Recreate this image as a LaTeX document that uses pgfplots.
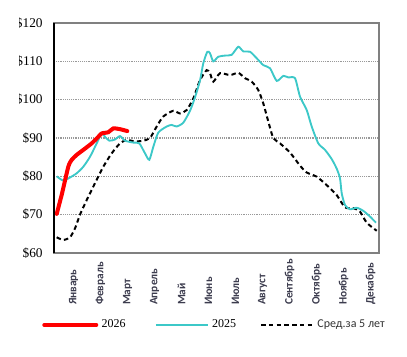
\documentclass[border=0pt]{standalone}
\usepackage{fontspec}
\setmainfont{Liberation Serif}
\newfontfamily\calib{Carlito}
\usepackage{pgfplots}
\pgfplotsset{compat=1.18}
\definecolor{cy}{RGB}{60,200,200}
\definecolor{lab}{RGB}{60,60,78}
\begin{document}
\begin{tikzpicture}
\begin{axis}[
 name=ax,
 scale only axis, width=243.75pt, height=172.5pt,
 xmin=0, xmax=325, ymin=60, ymax=120,
 axis line style={draw=gray, line width=1.3pt},
 ytick={60,70,...,120},
 yticklabels={\$60,\$70,\$80,\$90,\$100,\$110,\$120},
 yticklabel style={font=\fontsize{10}{12}\selectfont, xshift=-5pt},
 ymajorgrids, grid style={densely dotted, gray!80, line width=0.8pt},
 major tick length=0pt,
 xtick={19.5,46.5,73.5,100.5,127.5,154.5,181.5,208.5,235.5,262.5,289.5,316.5},
 xticklabels={Январь,Февраль,Март,Апрель,Май,Июнь,Июль,Август,Сентябрь,Октябрь,Ноябрь,Декабрь},
 xticklabel style={font=\calib\fontsize{8.5}{10}\selectfont\bfseries, color=lab, rotate=90, anchor=east, text width=36pt, align=left, inner sep=2.8pt},
 legend columns=3, reverse legend,
 legend style={at={(-0.0369,-0.313)}, anchor=west, draw=none, fill=none, inner sep=0pt,
   font=\fontsize{9}{11}\selectfont, nodes={inner sep=0pt},
   /tikz/column 1/.style={column sep=2.5pt},
   /tikz/column 2/.style={column sep=22pt},
   /tikz/column 3/.style={column sep=2.5pt},
   /tikz/column 4/.style={column sep=18pt},
   /tikz/column 5/.style={column sep=2.5pt}},
 legend image code/.code={\draw[#1] (0pt,0pt) -- (39pt,0pt);},
]
\addplot[black, line width=1.5pt, dash pattern=on 3.4pt off 2.4pt, smooth, tension=0.4] coordinates {
(2.7,64.1)(9.3,63.4)(16,64.1)(21,66.4)(26,70)(32.7,73.8)(41,78.2)(49.3,82.5)(57.7,86)(66,88.6)
(72.7,89.5)(81,89.1)(89.3,89.3)(96,90)(102.7,93)(109.3,95.6)(119.3,97.1)(126,96.4)(132.7,97.3)
(139.3,100.3)(146,105.1)(152.7,107.7)(156,106.9)(159.3,104.7)(166,106.9)(176,106.4)(184.3,107)
(191,105.6)(197.7,104.7)(204.3,102.5)(209.3,99)(214.3,94.3)(219.3,90)(226,88.6)(236,86.2)
(246,82.8)(252.7,81)(262.7,79.9)(272.7,77.7)(282.7,75.1)(291,71.9)(299.3,71.7)(306,70.8)
(312.7,67.9)(322.7,65.8)};
\addlegendentry{\calib\color{black!80}Сред.за 5 лет}
\addplot[cy, line width=1.4pt, smooth, tension=0.4] coordinates {
(2.7,80)(9.3,78.9)(16,79.7)(22.7,80.8)(29.3,82.5)(36,85.1)(42.7,88.6)(47.7,91.2)(51,90.3)
(55.3,89.3)(61,89.6)(66,90.5)(71,89.3)(79.3,88.8)(85.3,88.6)(91,86)(95.3,84.3)(99.3,87.7)
(104.3,91.4)(112.7,93)(117.7,93.4)(122.7,93)(129.3,94)(136,97.1)(141,100.6)(146,105)
(149.3,109.5)(153.3,112.5)(156,112.1)(159.3,110)(164.3,111.2)(171,111.5)(177.7,111.7)
(184.3,113.8)(189.3,112.6)(196,112.5)(202.7,110.8)(209.3,109)(216,108.2)(222.7,104.9)
(229.3,106.2)(234.3,105.8)(241,105.6)(246,100.8)(252.7,97.3)(257.7,93)(264.3,88.6)(271,86.9)
(277.7,84.5)(282.7,82)(286,79.5)(287.7,75.6)(291,72.5)(296,71.4)(302.7,71.8)(309.3,71)
(316,69.5)(322,67.9)};
\addlegendentry{2025}
\addplot[red, line width=3pt, line cap=round, smooth, tension=0.4] coordinates {
(2.7,70.2)(8,75.5)(14.3,82.5)(17.7,84.3)(22.7,85.6)(29.3,86.9)(37.7,88.6)(44.3,90.3)
(47.7,91.2)(54.3,91.5)(59.3,92.5)(66,92.3)(73.3,91.8)};
\addlegendentry{2026}
\end{axis}
\draw[black, line width=1.4pt] (ax.south west) -- (ax.north west);
\pgfresetboundingbox
\path[use as bounding box] ([shift={(-40.5pt,-78pt)}]ax.south west) rectangle ([shift={(21pt,17.25pt)}]ax.north east);
\fill[white] ([shift={(-41pt,-79pt)}]ax.south west) rectangle ([shift={(-25.9pt,18pt)}]ax.north west);
\end{tikzpicture}
\end{document}
